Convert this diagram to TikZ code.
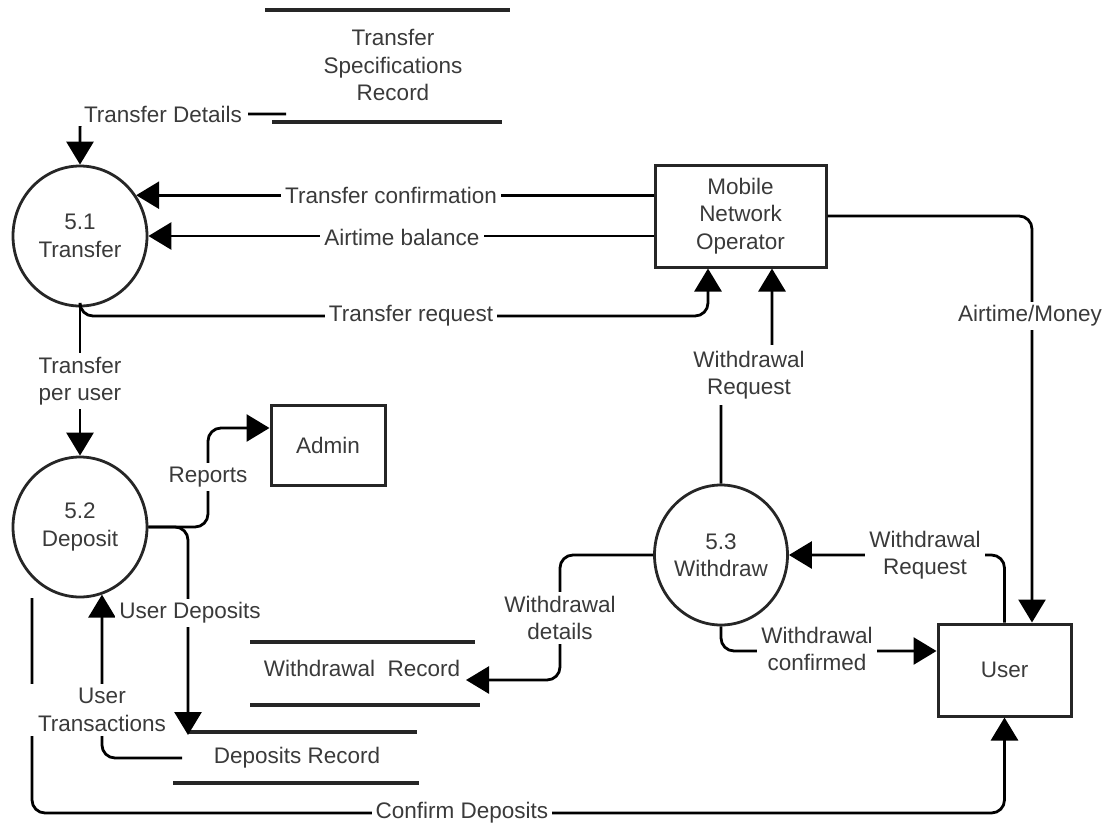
\documentclass[tikz,border=0pt]{standalone}
\usepackage{fontspec}
\setmainfont{Liberation Sans}
\usetikzlibrary{arrows.meta,shapes.geometric,calc}
\definecolor{txt}{HTML}{3A3A3A}
\definecolor{edge}{HTML}{262626}

\begin{document}
\begin{tikzpicture}[x=1pt,y=-1pt,
  every node/.style={font=\fontsize{22.5}{27.5}\selectfont, text=txt},
  flow/.style={draw=black, line width=2.8pt, rounded corners=13pt,
               -{Triangle[length=23pt,width=27pt]}},
  proc/.style={ellipse, draw=edge, line width=2.8pt, minimum width=134pt,
               minimum height=140pt, align=center, inner sep=0pt},
  ent/.style={rectangle, draw=edge, line width=3pt, align=center},
  lbl/.style={fill=white, align=center, inner sep=4pt},
  storeline/.style={draw=edge, line width=3.2pt},
  stxt/.style={align=center}
]
\useasboundingbox (0,0) rectangle (1116,827);

% processes
\node[proc] (p1) at (80,236) {5.1\\Transfer};
\node[proc] (p2) at (80,527) {5.2\\Deposit};
\node[proc, minimum width=133pt] (p3) at (721,555) {5.3\\Withdraw};

% external entities
\node[ent, minimum width=171pt, minimum height=102pt] (mno) at (740.5,216) {Mobile\\Network\\Operator};
\node[ent, minimum width=114pt, minimum height=80pt] (admin) at (328,445) {Admin};
\node[ent, minimum width=133pt, minimum height=92pt] (user) at (1004.5,670) {User};

% data stores
\draw[storeline] (265,10) -- (510,10);
\draw[storeline] (272,122) -- (502,122);
\node[stxt] (tsr) at (393,65) {Transfer\\Specifications\\Record};
\coordinate (tsrout) at (286,114);

\draw[storeline] (250,642) -- (475,642);
\draw[storeline] (250,705) -- (480,705);
\node[stxt] (wrec) at (362,668) {Withdrawal\ \ Record};
\coordinate (wrecin) at (466,680);

\draw[storeline] (188,732) -- (417,732);
\draw[storeline] (173,783) -- (419,783);
\node[stxt] (drec) at (297,758) {Deposits Record};
\coordinate (drecin) at (188,735);
\coordinate (drecout) at (182,758);

% data flows
\draw[flow] (tsrout) -| (p1.north);
\draw[flow] (mno.west |- p1.36) -- (p1.36);
\draw[flow] (mno.west |- p1.east) -- (p1.east);
\coordinate (trc) at (708,316);
\draw[flow] (p1.south) |- (trc) -- (trc |- mno.south);
\draw[flow] (p1.south) -- (p2.north);

\coordinate (wrA) at (721,378);
\coordinate (wrB) at (772,378);
\draw[flow] (p3.north) -- (wrA) -- (wrB) -- (wrB |- mno.south);

\draw[flow] (mno.east) -| ($(user.north)+(27.5,0)$);
\draw[flow] (user.north) |- (p3.east);
\draw[flow] (p3.south) |- ($(user.west)+(0,-19)$);
\coordinate (wdc) at (560,680);
\draw[flow] (p3.west) -| (wdc) -- (wrecin);

\coordinate (rpc) at (208,428);
\draw[flow] (p2.east) -| (rpc) -- (rpc -| admin.west);
\draw[flow] (p2.east) -| (drecin);
\draw[flow] (drecout) -| (p2.288);

\coordinate (cd0) at (32,598);
\coordinate (cdc) at (500,813);
\draw[flow] (cd0) |- (cdc) -| (user.south);

% flow labels
\node[lbl, inner xsep=6pt] (l-td) at (163,114) {Transfer Details};
\node[lbl] (l-tc) at (391,195) {Transfer confirmation};
\node[lbl] (l-ab) at (402,237) {Airtime balance};
\node[lbl] (l-tr) at (411,316) {Transfer request};
\node[lbl] (l-tpu) at (80,381) {Transfer\\per user};
\node[lbl, inner ysep=6pt] (l-wr1) at (749,375) {Withdrawal\\Request};
\node[lbl] (l-am) at (1030,316) {Airtime/Money};
\node[lbl] (l-wr2) at (925,555) {Withdrawal\\Request};
\node[lbl] (l-wc) at (817,649) {Withdrawal\\confirmed};
\node[lbl] (l-wd) at (560,618) {Withdrawal\\details};
\node[lbl] (l-rep) at (208,477) {Reports};
\node[lbl] (l-ud) at (190,613) {User Deposits};
\node[lbl, inner xsep=8pt] (l-ut) at (102,710) {User\\Transactions};
\node[lbl] (l-cd) at (462,813) {Confirm Deposits};
\end{tikzpicture}
\end{document}
